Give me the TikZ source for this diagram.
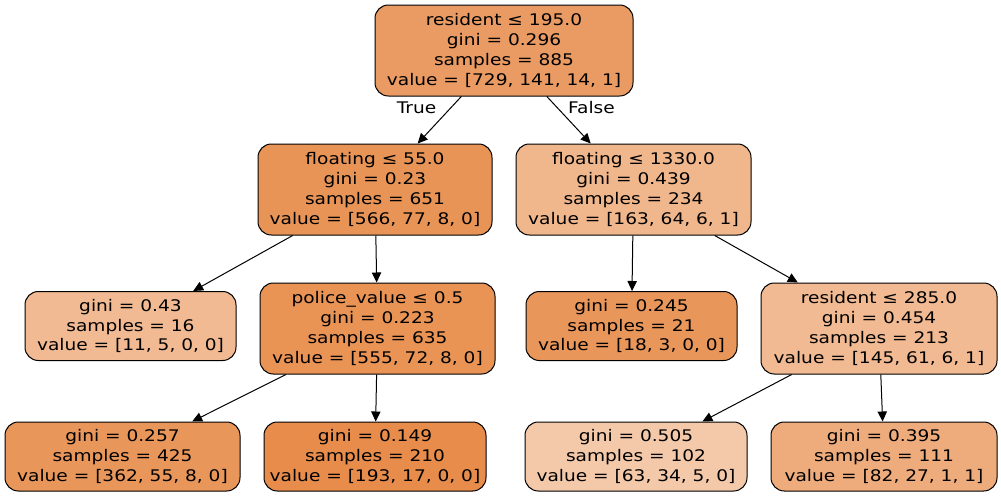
\documentclass[tikz,border=0pt]{standalone}
\usepackage{fontspec}
\setmainfont{DejaVu Sans}[FakeStretch=1.16]
\usetikzlibrary{arrows.meta, positioning}
\definecolor{cls}{RGB}{229, 129, 57}

\begin{document}
\begin{tikzpicture}[x=0.75pt, y=-0.75pt,
        tn/.style={draw, rounded corners=10pt, line width=0.75pt,
                   align=center, inner sep=0pt,
                   font=\fontsize{12}{14.8}\selectfont,
                   minimum width=#1*0.75pt},
        sp/.style={tn=#1, minimum height=68.25pt},
        lf/.style={tn=#1, minimum height=51.75pt},
        ed/.style={line width=0.75pt,
                   -{Triangle[length=7.5pt, width=7pt]}},
        lb/.style={font=\fontsize{12}{12}\selectfont, inner sep=0pt,
                   anchor=base},
    ]
    \useasboundingbox (0, 0) rectangle (1001, 497);
    % split nodes
    \node[sp=258, fill=cls!79] (root) at (504, 50.5)
        {resident ≤ 195.0\\gini = 0.296\\samples = 885\\value = [729, 141, 14, 1]};
    \node[sp=234, fill=cls!85] (fa) at (375, 189.5)
        {floating ≤ 55.0\\gini = 0.23\\samples = 651\\value = [566, 77, 8, 0]};
    \node[sp=235, fill=cls!58] (fb) at (633.5, 189.5)
        {floating ≤ 1330.0\\gini = 0.439\\samples = 234\\value = [163, 64, 6, 1]};
    \node[sp=235, fill=cls!86] (pv) at (377.5, 328.5)
        {police\_value ≤ 0.5\\gini = 0.223\\samples = 635\\value = [555, 72, 8, 0]};
    \node[sp=236, fill=cls!55] (rs) at (879, 328.5)
        {resident ≤ 285.0\\gini = 0.454\\samples = 213\\value = [145, 61, 6, 1]};
    % leaves
    \node[lf=211, fill=cls!55] (l1) at (130.5, 326)
        {gini = 0.43\\samples = 16\\value = [11, 5, 0, 0]};
    \node[lf=211, fill=cls!83] (l2) at (631.5, 326)
        {gini = 0.245\\samples = 21\\value = [18, 3, 0, 0]};
    \node[lf=235, fill=cls!83] (l3) at (122.5, 456.5)
        {gini = 0.257\\samples = 425\\value = [362, 55, 8, 0]};
    \node[lf=222, fill=cls!91] (l4) at (375, 456.5)
        {gini = 0.149\\samples = 210\\value = [193, 17, 0, 0]};
    \node[lf=222, fill=cls!43] (l5) at (636, 456.5)
        {gini = 0.505\\samples = 102\\value = [63, 34, 5, 0]};
    \node[lf=226, fill=cls!66] (l6) at (884, 456.5)
        {gini = 0.395\\samples = 111\\value = [82, 27, 1, 1]};
    % edges
    \draw[ed] (root) -- (fa);
    \draw[ed] (root) -- (fb);
    \draw[ed] (fa) -- (l1);
    \draw[ed] (fa) -- (pv);
    \draw[ed] (fb) -- (l2);
    \draw[ed] (fb) -- (rs);
    \draw[ed] (pv) -- (l3);
    \draw[ed] (pv) -- (l4);
    \draw[ed] (rs) -- (l5);
    \draw[ed] (rs) -- (l6);
    \node[lb] (yes) at (416.5, 113) {True};
    \node[lb] (no) at (591.5, 113) {False};
\end{tikzpicture}
\end{document}
